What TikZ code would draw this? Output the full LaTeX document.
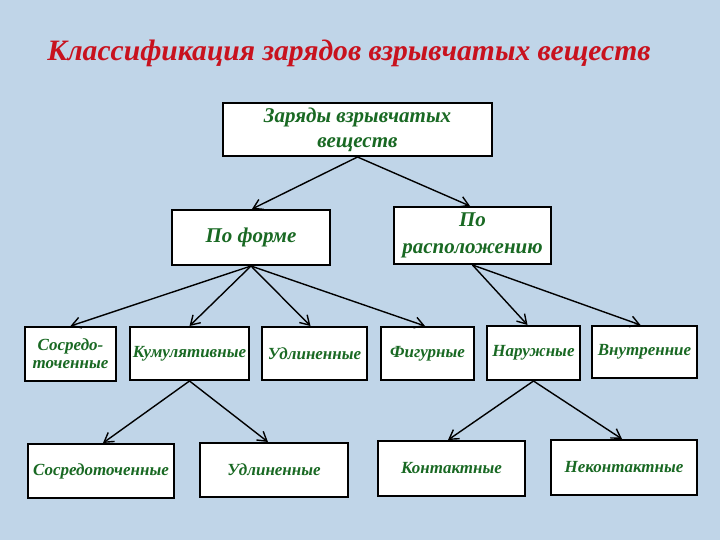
\documentclass[tikz,border=0pt]{standalone}
\usepackage{fontspec}
\setmainfont{Liberation Serif}
\usetikzlibrary{arrows.meta}
\definecolor{bg}{RGB}{192,213,232}
\definecolor{titlered}{RGB}{200,18,30}
\definecolor{txtgreen}{RGB}{25,105,35}
\begin{document}
\begin{tikzpicture}[x=1pt,y=-1pt,
  box/.style={draw=black, line width=2pt, fill=white, inner sep=0pt, align=center,
    text=txtgreen, font=\bfseries\itshape},
  big/.style={font=\fontsize{21}{25}\selectfont\bfseries\itshape},
  mid/.style={font=\fontsize{17}{18}\selectfont\bfseries\itshape},
  arr/.style={-{Straight Barb[length=9pt,width=11pt]}, line width=1.4pt}]
\fill[bg] (0,0) rectangle (720,540);
\useasboundingbox (0,0) rectangle (720,540);
\node[text=titlered, font=\fontsize{29.6}{34}\selectfont\bfseries\itshape] (title) at (349,53)
  {Классификация зарядов взрывчатых веществ};
% level 1
\node[box,big,minimum width=269pt,minimum height=53pt] (A) at (357.5,129.5) {Заряды взрывчатых\\веществ};
% level 2
\node[box,big,minimum width=158pt,minimum height=55pt] (B) at (251,237.5) {По форме};
\node[box,font=\fontsize{21}{27}\selectfont\bfseries\itshape,minimum width=157pt,minimum height=57pt] (C) at (472.5,235.5) {По\\расположению};
% level 3
\node[box,mid,minimum width=91pt,minimum height=54pt] (D) at (70.5,354) {Сосредо-\\точенные};
\node[box,mid,minimum width=119pt,minimum height=53pt] (E) at (189.5,353.5) {Кумулятивные};
\node[box,mid,minimum width=105pt,minimum height=53pt] (F) at (314.5,353.5) {Удлиненные};
\node[box,mid,minimum width=93pt,minimum height=53pt] (G) at (427.5,353.5) {Фигурные};
\node[box,mid,minimum width=93pt,minimum height=54pt] (H) at (533.5,353) {Наружные};
\node[box,mid,minimum width=105pt,minimum height=52pt] (I) at (644.5,352) {Внутренние};
% level 4
\node[box,mid,minimum width=146pt,minimum height=54pt] (J) at (101,471) {Сосредоточенные};
\node[box,mid,minimum width=148pt,minimum height=54pt] (K) at (274,470) {Удлиненные};
\node[box,mid,minimum width=147pt,minimum height=55pt] (L) at (451.5,468.5) {Контактные};
\node[box,mid,minimum width=146pt,minimum height=55pt] (M) at (624,467.5) {Неконтактные};
% arrows
\draw[arr] (A.south) -- ([xshift=1pt]B.north);
\draw[arr] (A.south) -- ([xshift=-2.5pt]C.north);
\draw[arr] (B.south) -- (D.north);
\draw[arr] (B.south) -- (E.north);
\draw[arr] (B.south) -- ([xshift=-4pt]F.north);
\draw[arr] (B.south) -- ([xshift=-2.5pt]G.north);
\draw[arr] (C.south) -- ([xshift=-6pt]H.north);
\draw[arr] (C.south) -- ([xshift=-4pt]I.north);
\draw[arr] (E.south) -- ([xshift=2pt]J.north);
\draw[arr] (E.south) -- ([xshift=-6pt]K.north);
\draw[arr] (H.south) -- ([xshift=-3.5pt]L.north);
\draw[arr] (H.south) -- ([xshift=-2pt]M.north);
\end{tikzpicture}
\end{document}
